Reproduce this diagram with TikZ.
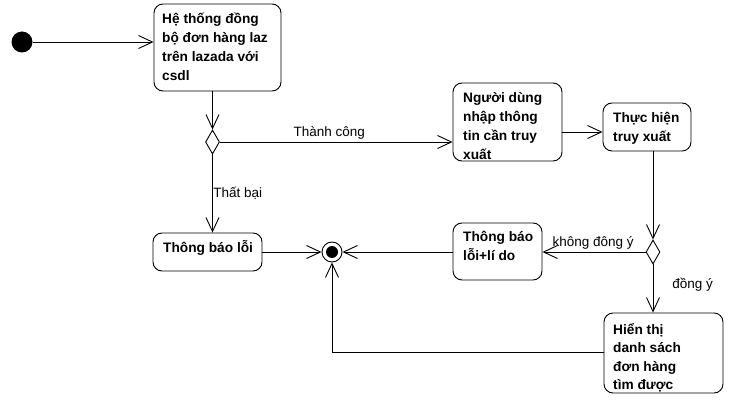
\documentclass[tikz,border=0pt]{standalone}
\usepackage{fontspec}
\setmainfont{Liberation Sans}
\usetikzlibrary{arrows.meta,shapes.geometric}
\tikzset{
  act/.style={draw, line width=0.9pt, rounded corners=9pt, inner sep=0pt},
  acttext/.style={anchor=base west, inner sep=0pt, align=left,
    font=\bfseries\fontsize{13.7}{19}\selectfont},
  lbl/.style={inner sep=0pt, font=\fontsize{13.5}{16}\selectfont},
  dec/.style={draw, line width=0.9pt, diamond, aspect=0.6, inner sep=0pt,
    minimum width=14pt, minimum height=24pt},
  flow/.style={line width=0.9pt, -{Straight Barb[length=14pt,width=13pt,line width=0.9pt]}},
  plain/.style={line width=0.9pt}
}
\begin{document}
\begin{tikzpicture}[x=1pt,y=-1pt]
\useasboundingbox (0,0) rectangle (731,406);
% initial and final nodes
\node[circle, fill=black, minimum size=21pt, inner sep=0pt] (init) at (22,42) {};
\node[circle, draw, line width=0.9pt, minimum size=20pt, inner sep=0pt] (final) at (332,252) {};
\node[circle, fill=black, minimum size=12pt, inner sep=0pt] (finaldot) at (332,252) {};
% activity boxes (text anchored at the baseline of its last line)
\node[act, minimum width=127pt, minimum height=87pt] (b1) at (217.5,47.5) {};
\node[acttext] (t1) at (162,81) {Hệ thống đồng\\bộ đơn hàng laz\\trên lazada với\\csdl};
\node[act, minimum width=109pt, minimum height=78pt] (b2) at (507.5,122) {};
\node[acttext] (t2) at (463,160) {Người dùng\\nhập thông\\tin cần truy\\xuất};
\node[act, minimum width=88pt, minimum height=48pt] (b3) at (647,127) {};
\node[acttext] (t3) at (613,142) {Thực hiện\\truy xuất};
\node[act, minimum width=89pt, minimum height=57pt] (b4) at (497.5,251.5) {};
\node[acttext] (t4) at (463,261) {Thông báo\\lỗi+lí do};
\node[act, minimum width=109pt, minimum height=38pt] (b5) at (207.5,252) {};
\node[acttext] (t5) at (163,253) {Thông báo lỗi};
\node[act, minimum width=119pt, minimum height=80pt] (b6) at (663.5,353) {};
\node[acttext, font=\bfseries\fontsize{13.7}{18.5}\selectfont] (t6) at (613,389.5) {Hiển thị\\danh sách\\đơn hàng\\tìm được};
% decisions
\node[dec] (d1) at (212.5,142) {};
\node[dec] (d2) at (653,252) {};
% connectors
\draw[flow] (init) -- (b1.west |- init);
\draw[flow] (b1.south -| d1) -- (d1.north);
\draw[flow] (d1.east) -- (b2.west |- d1.east)
  node[lbl, pos=0.47, above=2pt] (lt1) {Thành công};
\draw[flow] (d1.south) -- (b5.north -| d1.south)
  node[lbl, anchor=base west, pos=0.55, xshift=0.5pt] (lt2) {Thất bại};
\draw[flow] (b2.east |- 0,132) -- (b3.west |- 0,132);
\draw[flow] (b3.south -| d2) -- (d2.north);
\draw[flow] (d2.west) -- (b4.east |- d2.west)
  node[lbl, anchor=base west, pos=0.905, yshift=5pt] (lt3) {không đông ý};
\draw[flow] (d2.south) -- (b6.north -| d2.south)
  node[lbl, anchor=base west, pos=0.49, xshift=19pt] (lt4) {đồng ý};
\draw[flow] (b4.west |- final) -- (final.east);
\draw[flow] (b5.east) -- (final.west);
\draw[flow] (b6.west |- 0,352) -| (final.south);
\end{tikzpicture}
\end{document}
